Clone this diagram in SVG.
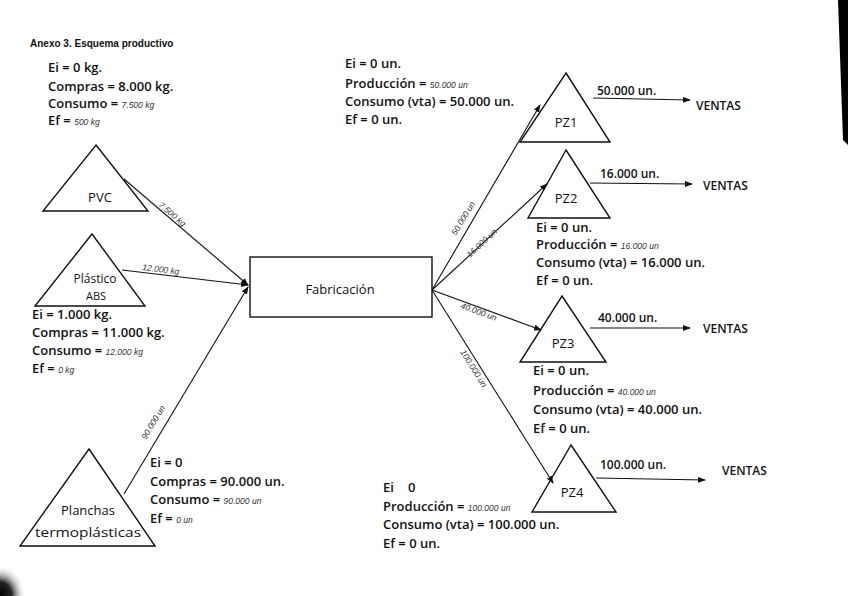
<svg xmlns="http://www.w3.org/2000/svg" width="848" height="596" viewBox="0 0 848 596">
<defs>
<marker id="ah" markerWidth="8" markerHeight="6" refX="7" refY="3" orient="auto" markerUnits="userSpaceOnUse">
<path d="M0,0 L8,3 L0,6 Z" fill="#111"/>
</marker>
<radialGradient id="blob" cx="0" cy="1" r="1">
<stop offset="0" stop-color="#000"/>
<stop offset="0.45" stop-color="#222"/>
<stop offset="1" stop-color="#fff" stop-opacity="0"/>
</radialGradient>
</defs>
<style>
text{font-family:"Open Sans","Liberation Sans",sans-serif;fill:#111;}
.t{font-size:13px;font-weight:600;}
.h{font-size:8.5px;font-style:italic;font-weight:normal;fill:#333;font-family:"Liberation Sans",sans-serif;}
.lbl{font-size:13px;text-anchor:middle;}
.v{font-size:12px;font-weight:600;}
.title{font-size:10px;font-weight:bold;font-family:"Liberation Sans",sans-serif;}
.shape{fill:none;stroke:#111;stroke-width:1.4;}
.c{fill:none;stroke:#111;stroke-width:1.1;}
</style>
<rect width="848" height="596" fill="#fff"/>
<path d="M838,0 L848,0 L848,145 L843,140 Z" fill="#000"/>
<rect x="0" y="565" width="26" height="31" fill="url(#blob)"/>
<text class="title" x="30" y="47">Anexo 3. Esquema productivo</text>

<g id="connectors">
<line class="c" x1="124" y1="179" x2="248" y2="285" marker-end="url(#ah)"/>
<text class="h" transform="translate(158,206) rotate(40)">7.500 kg</text>
<line class="c" x1="122" y1="270" x2="248" y2="285" marker-end="url(#ah)"/>
<text class="h" transform="translate(142,270) rotate(7)">12.000 kg</text>
<line class="c" x1="124" y1="494" x2="248" y2="287" marker-end="url(#ah)"/>
<text class="h" transform="translate(146,440) rotate(-59)">90.000 un</text>
<line class="c" x1="432" y1="290" x2="540" y2="105" marker-end="url(#ah)"/>
<text class="h" transform="translate(456,236) rotate(-59)">50.000 un</text>
<line class="c" x1="432" y1="290" x2="547" y2="184" marker-end="url(#ah)"/>
<text class="h" transform="translate(470,258) rotate(-43)">16.000 un</text>
<line class="c" x1="432" y1="290" x2="541" y2="330" marker-end="url(#ah)"/>
<text class="h" transform="translate(460,308) rotate(20)">40.000 un</text>
<line class="c" x1="432" y1="290" x2="553" y2="483" marker-end="url(#ah)"/>
<text class="h" transform="translate(460,352) rotate(58)">100.000 un</text>
<line class="c" x1="593" y1="98" x2="690" y2="100" marker-end="url(#ah)"/>
<line class="c" x1="590" y1="183" x2="692" y2="184" marker-end="url(#ah)"/>
<line class="c" x1="590" y1="328" x2="690" y2="328" marker-end="url(#ah)"/>
<line class="c" x1="596" y1="478" x2="705" y2="480" marker-end="url(#ah)"/>
</g>

<g id="pvc">
<polygon class="shape" points="96,145 148,211 43,211"/>
<text class="lbl" x="100" y="202">PVC</text>
<text class="t" x="48" y="72">Ei = 0 kg.</text>
<text class="t" x="48" y="91">Compras = 8.000 kg.</text>
<text class="t" x="48" y="108">Consumo = <tspan class="h">7.500 kg</tspan></text>
<text class="t" x="48" y="125">Ef = <tspan class="h">500 kg</tspan></text>
</g>

<g id="abs">
<polygon class="shape" points="92,234 145,306 35,306"/>
<text class="lbl" x="95" y="283" style="font-size:12px">Plástico</text>
<text class="lbl" x="96" y="300" style="font-size:11px">ABS</text>
<text class="t" x="32" y="319">Ei = 1.000 kg.</text>
<text class="t" x="32" y="337">Compras = 11.000 kg.</text>
<text class="t" x="32" y="355">Consumo = <tspan class="h">12.000 kg</tspan></text>
<text class="t" x="32" y="373">Ef = <tspan class="h">0 kg</tspan></text>
</g>

<g id="planchas">
<polygon class="shape" points="89,449 155,546 20,546"/>
<text class="lbl" x="88" y="515">Planchas</text>
<text class="lbl" x="88" y="537" style="font-size:12px" textLength="106" lengthAdjust="spacingAndGlyphs">termoplásticas</text>
<text class="t" x="150" y="467">Ei = 0</text>
<text class="t" x="150" y="486">Compras = 90.000 un.</text>
<text class="t" x="150" y="504">Consumo = <tspan class="h">90.000 un</tspan></text>
<text class="t" x="150" y="523">Ef = <tspan class="h">0 un</tspan></text>
</g>

<g id="fabricacion">
<rect class="shape" x="250" y="257" width="182" height="60"/>
<text class="lbl" x="340" y="294">Fabricación</text>
</g>

<g id="pz1">
<polygon class="shape" points="566,73 610,142 520,142"/>
<text class="lbl" x="566" y="127">PZ1</text>
<text class="t" x="345" y="68">Ei = 0 un.</text>
<text class="t" x="345" y="88">Producción = <tspan class="h">50.000 un</tspan></text>
<text class="t" x="345" y="106">Consumo (vta) = 50.000 un.</text>
<text class="t" x="345" y="124">Ef = 0 un.</text>
<text class="v" x="597" y="95">50.000 un.</text>
<text class="v" x="696" y="110">VENTAS</text>
</g>

<g id="pz2">
<polygon class="shape" points="566,150 610,218 528,218"/>
<text class="lbl" x="566" y="203">PZ2</text>
<text class="t" x="536" y="232">Ei = 0 un.</text>
<text class="t" x="536" y="249">Producción = <tspan class="h">16.000 un</tspan></text>
<text class="t" x="536" y="267">Consumo (vta) = 16.000 un.</text>
<text class="t" x="536" y="285">Ef = 0 un.</text>
<text class="v" x="600" y="178">16.000 un.</text>
<text class="v" x="703" y="190">VENTAS</text>
</g>

<g id="pz3">
<polygon class="shape" points="562,296 606,362 520,362"/>
<text class="lbl" x="563" y="348">PZ3</text>
<text class="t" x="533" y="375">Ei = 0 un.</text>
<text class="t" x="533" y="395">Producción = <tspan class="h">40.000 un</tspan></text>
<text class="t" x="533" y="414">Consumo (vta) = 40.000 un.</text>
<text class="t" x="533" y="433">Ef = 0 un.</text>
<text class="v" x="598" y="322">40.000 un.</text>
<text class="v" x="703" y="333">VENTAS</text>
</g>

<g id="pz4">
<polygon class="shape" points="571,445 616,512 532,512"/>
<text class="lbl" x="572" y="497">PZ4</text>
<text class="t" x="383" y="492">Ei<tspan dx="14">0</tspan></text>
<text class="t" x="383" y="511">Producción = <tspan class="h">100.000 un</tspan></text>
<text class="t" x="383" y="529">Consumo (vta) = 100.000 un.</text>
<text class="t" x="383" y="548">Ef = 0 un.</text>
<text class="v" x="600" y="469">100.000 un.</text>
<text class="v" x="722" y="475">VENTAS</text>
</g>
</svg>
